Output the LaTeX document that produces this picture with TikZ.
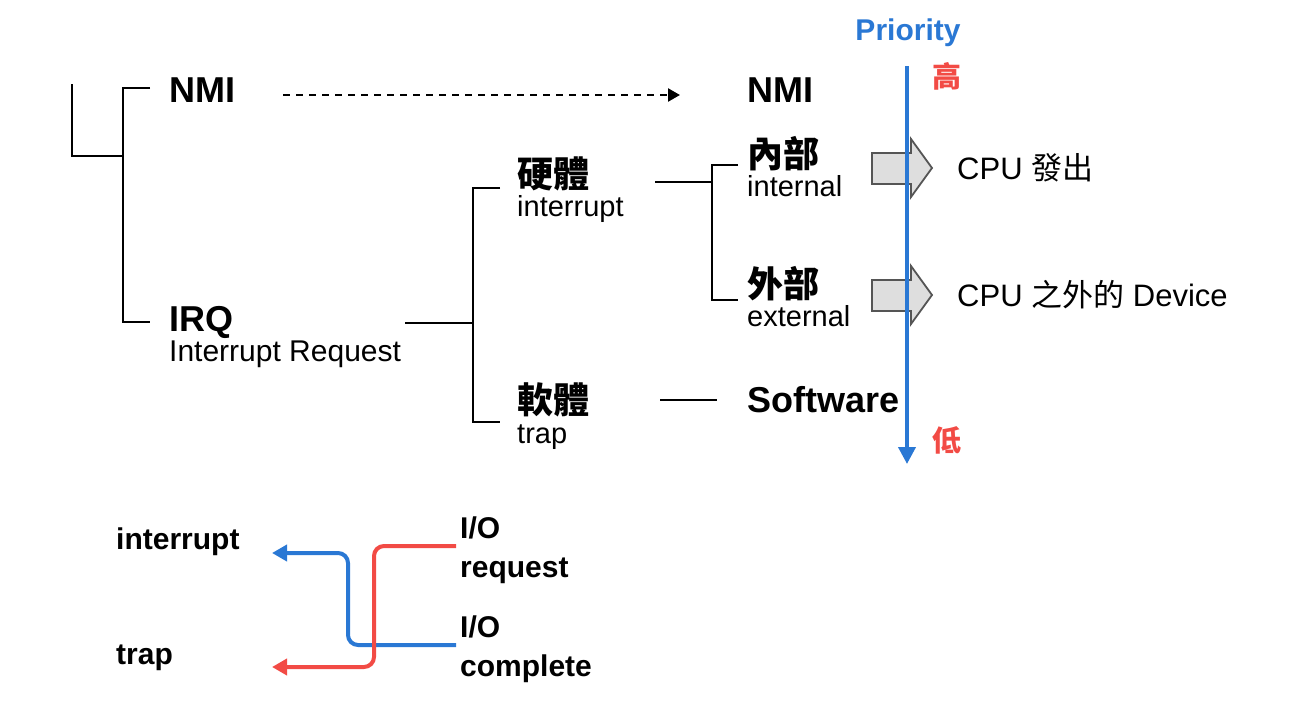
\documentclass[tikz,border=0pt]{standalone}
\usepackage{fontspec}
\setmainfont{Liberation Sans}
\newfontfamily\cjk{Noto Sans CJK TC}
\usetikzlibrary{arrows.meta}
\definecolor{pblue}{HTML}{2A78D4}
\definecolor{pred}{HTML}{F24B45}
\definecolor{agray}{HTML}{DEDEDE}
\definecolor{aedge}{HTML}{555555}
\tikzset{
  title/.style={anchor=base west, inner sep=0pt, font=\fontsize{36}{40}\selectfont\bfseries},
  cjktitle/.style={anchor=base west, inner sep=0pt, font=\fontsize{36}{40}\selectfont\cjk\bfseries},
  sub/.style={anchor=base west, inner sep=0pt, font=\fontsize{29}{34}\selectfont},
  desc/.style={anchor=base west, inner sep=0pt, font=\fontsize{31}{34}\selectfont},
  lab/.style={anchor=base west, inner sep=0pt, font=\fontsize{30}{34}\selectfont\bfseries},
  level/.style={anchor=base, inner sep=0pt, text=pred, font=\fontsize{29}{32}\selectfont\cjk\bfseries},
  tree/.style={draw=black, line width=2.3pt},
  blockarrow/.style={draw=aedge, fill=agray, line width=1.8pt, line join=miter},
  flow/.style={line width=4pt, rounded corners=10pt, -{Triangle[length=15pt,width=16pt]}},
}
\begin{document}
\begin{tikzpicture}[x=1pt,y=-1pt]
\useasboundingbox (0,0) rectangle (1290,712);

% ---- tree texts
\node[title] (nmi) at (169,102) {NMI};
\node[title] (irq) at (169,331) {IRQ};
\node[desc, font=\fontsize{30}{34}\selectfont] (irqsub) at (169,361) {Interrupt Request};
\node[cjktitle] (hw) at (517,187) {硬體};
\node[sub] (hwsub) at (517,216) {interrupt};
\node[cjktitle] (sw) at (517,413) {軟體};
\node[sub] (swsub) at (517,443) {trap};
\node[title] (nmi2) at (747,102) {NMI};
\node[cjktitle] (int) at (747,167) {內部};
\node[sub] (intsub) at (747,196) {internal};
\node[cjktitle] (ext) at (747,297) {外部};
\node[sub] (extsub) at (747,326) {external};
\node[title] (soft) at (747,412) {Software};
\node[desc] (cpu1) at (957,179) {CPU {\cjk 發出}};
\node[desc] (cpu2) at (957,306) {CPU {\cjk 之外的} Device};

% ---- tree coordinates
\coordinate (r0) at (72,84);
\coordinate (r1) at (72,156);
\coordinate (r2) at (123,156);
\coordinate (a0) at (150,88);
\coordinate (a1) at (123,88);
\coordinate (a2) at (123,322);
\coordinate (a3) at (150,322);
\coordinate (b0) at (405,323);
\coordinate (b1) at (473,323);
\coordinate (b2) at (500,188);
\coordinate (b3) at (473,188);
\coordinate (b4) at (473,422);
\coordinate (b5) at (500,422);
\coordinate (c0) at (655,182);
\coordinate (c1) at (712,182);
\coordinate (c2) at (738,165);
\coordinate (c3) at (712,165);
\coordinate (c4) at (712,300);
\coordinate (c5) at (738,300);
\coordinate (d0) at (660,400);
\coordinate (d1) at (717,400);
\coordinate (e0) at (283,95);
\coordinate (e1) at (680,95);

\draw[tree] (r0) -- (r1) -- (r2);
\draw[tree] (a0) -- (a1) -- (a2) -- (a3);
\draw[tree] (b0) -- (b1);
\draw[tree] (b2) -- (b3) -- (b4) -- (b5);
\draw[tree] (c0) -- (c1);
\draw[tree] (c2) -- (c3) -- (c4) -- (c5);
\draw[tree] (d0) -- (d1);
\draw[line width=2.3pt, dash pattern=on 7pt off 6pt, -{Triangle[length=12pt,width=13pt]}] (e0) -- (e1);

% ---- block arrows
\draw[blockarrow] (872,153) -- (911,153) -- (911,139) -- (932,168) -- (911,197) -- (911,184) -- (872,184) -- cycle;
\draw[blockarrow] (872,280) -- (911,280) -- (911,266) -- (932,295) -- (911,324) -- (911,311) -- (872,311) -- cycle;

% ---- priority axis
\node[anchor=base, inner sep=0pt, text=pblue, font=\fontsize{30}{34}\selectfont\bfseries] (prio) at (908,40) {Priority};
\coordinate (p0) at (907,66);
\coordinate (p1) at (907,464);
\draw[pblue, line width=3.8pt, -{Triangle[length=17pt,width=17pt]}] (p0) -- (p1);
\node[level] (hi) at (947,87) {高};
\node[level] (lo) at (947,451) {低};

% ---- bottom flows
\node[lab] (li) at (116,549) {interrupt};
\node[lab] (lt) at (116,664) {trap};
\node[lab] (io1) at (460,538) {I/O};
\node[lab] (req) at (460,577) {request};
\node[lab] (io2) at (460,637) {I/O};
\node[lab] (comp) at (460,676) {complete};

\coordinate (bl0) at (456,645);
\coordinate (bl1) at (348,645);
\coordinate (bl2) at (348,553);
\coordinate (bl3) at (272,553);
\coordinate (rd0) at (456,546);
\coordinate (rd1) at (374,546);
\coordinate (rd2) at (374,667);
\coordinate (rd3) at (272,667);
\draw[flow, pblue] (bl0) -- (bl1) -- (bl2) -- (bl3);
\draw[flow, pred] (rd0) -- (rd1) -- (rd2) -- (rd3);
\end{tikzpicture}
\end{document}
